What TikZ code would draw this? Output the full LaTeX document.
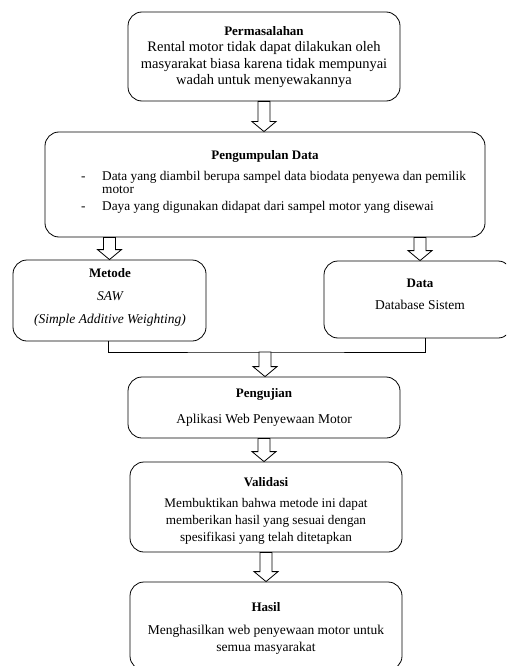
\documentclass[tikz,border=0pt]{standalone}
\usepackage{fontspec}
\setmainfont{Liberation Serif}
\usetikzlibrary{calc}
\tikzset{
  box/.style={draw, rounded corners=14pt, line width=0.8pt, inner sep=0pt},
  ttl/.style={anchor=base, inner sep=0pt, font=\fontsize{13}{16}\selectfont\bfseries},
  body/.style={anchor=base, inner sep=0pt, align=center, font=\fontsize{13.5}{16.8}\selectfont},
  gbody/.style={body, anchor=base west, align=left, font=\fontsize{13.3}{13}\selectfont},
}
\newcommand\blockarrow[2]{\draw[fill=white, line width=0.8pt] let \p1=(#1), \p2=(#2) in
  (\x1-6pt,\y1) -- (\x1+6pt,\y1) -- (\x1+6pt,\y2+10pt) -- (\x1+12pt,\y2+10pt) -- (\x1,\y2)
  -- (\x1-12pt,\y2+10pt) -- (\x1-6pt,\y2+10pt) -- cycle;}
\begin{document}
\begin{tikzpicture}[x=1pt, y=-1pt]
\useasboundingbox (0,0) rectangle (506,666);
\clip (0,0) rectangle (506,666);
% boxes
\node[box, minimum width=272pt, minimum height=89pt] (P) at (264,56.5) {};
\node[box, minimum width=440pt, minimum height=105pt] (G) at (265,184.5) {};
\node[box, minimum width=193pt, minimum height=81pt] (M) at (109.5,300.5) {};
\node[box, minimum width=188pt, minimum height=77pt] (D) at (418,299.5) {};
\node[box, minimum width=272pt, minimum height=61pt] (U) at (264,407.5) {};
\node[box, minimum width=272pt, minimum height=90pt] (V) at (266,507) {};
\node[box, minimum width=272pt, minimum height=88pt] (H) at (266,626) {};
% texts (multi-line nodes: base = baseline of last line)
\node[ttl] (Pt) at (264,36) {Permasalahan};
\node[body, font=\fontsize{14.5}{16.8}\selectfont] (Pb) at (264,85) {Rental motor tidak dapat dilakukan oleh\\masyarakat biasa karena tidak mempunyai\\wadah untuk menyewakannya};
\node[ttl] (Gt) at (265,159) {Pengumpulan Data};
\node[gbody] (Gd1) at (81,180) {-};
\node[gbody] (Gb1) at (102,193) {Data yang diambil berupa sampel data biodata penyewa dan pemilik\\motor};
\node[gbody] (Gd2) at (81,210) {-};
\node[gbody] (Gb2) at (102,210) {Daya yang digunakan didapat dari sampel motor yang disewai};
\node[ttl] (Mt) at (110,277) {Metode};
\node[body] (Mb1) at (110,300) {\itshape SAW};
\node[body] (Mb2) at (110,323) {\itshape (Simple Additive Weighting)};
\node[ttl] (Dt) at (420,287) {Data};
\node[body] (Db) at (420,309) {Database Sistem};
\node[ttl] (Ut) at (264,397) {Pengujian};
\node[body] (Ub) at (264,423) {Aplikasi Web Penyewaan Motor};
\node[ttl] (Vt) at (266,486) {Validasi};
\node[body, font=\fontsize{13.2}{16.8}\selectfont] (Vb) at (266,541) {Membuktikan bahwa metode ini dapat\\memberikan hasil yang sesuai dengan\\spesifikasi yang telah ditetapkan};
\node[ttl] (Ht) at (266,611) {Hasil};
\node[body] (Hb) at (266,651) {Menghasilkan web penyewaan motor untuk\\semua masyarakat};
% connectors
\coordinate (j) at (265,352);
\draw[line width=0.8pt] ([xshift=-1.5pt]M.south) |- (j) -| ([xshift=7pt]D.south);
\blockarrow{P.south}{G.north}
\blockarrow{M.north |- G.south}{M.north}
\blockarrow{[xshift=2pt]D.north |- G.south}{[xshift=2pt]D.north}
\blockarrow{j}{U.north}
\blockarrow{U.south}{V.north}
\blockarrow{V.south}{H.north}
\end{tikzpicture}
\end{document}
